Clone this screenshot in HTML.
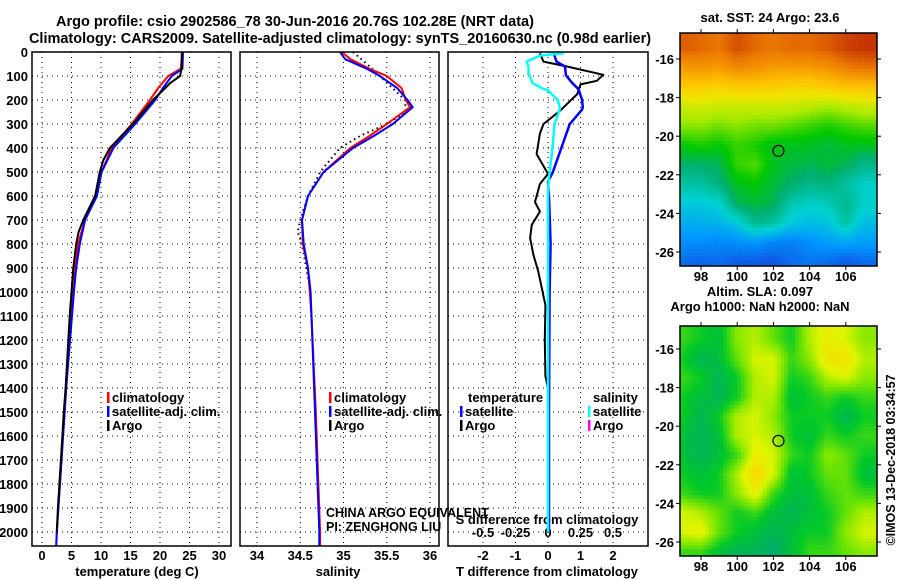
<!DOCTYPE html>
<html><head><meta charset="utf-8"><style>
body{margin:0;background:#fff;}
svg{display:block;font-family:"Liberation Sans",Arial,sans-serif;}
.b{font-weight:bold;font-size:13px;}
.t{font-weight:bold;font-size:14.5px;}
</style></head><body>
<svg id="c" width="900" height="580" viewBox="0 0 900 580"></svg>
<script>
// ---- data ----
const tempDepth = [0,60,100,130,150,200,300,400,450,500,600,700,750,800,900,1000,1100,1400,1500,1700,1900,2000];
const tempArgo  = [23.7,23.7,23.4,21.7,20.9,18.8,15.4,11.5,10.4,9.8,9.0,7.0,6.2,5.8,5.3,5.0,4.7,4.0,3.7,3.2,2.7,2.5];
const climDepth = [0,70,100,150,200,300,400,500,600,700,800,900,1000,1400,1700,2000,2060];
const tempClim  = [23.8,23.5,21.4,19.7,18.3,15.2,11.8,10.1,9.0,7.3,6.1,5.6,5.2,4.1,3.3,2.5,2.4];
const tempSat   = [23.9,23.8,22.0,20.5,19.2,15.8,12.1,10.1,9.3,7.3,6.4,5.8,5.4,4.1,3.3,2.5,2.4];
const salArgoDepth = [0,50,100,200,250,300,350,400,500,600,700,750,800,900,1000];
const salArgo   = [35.11,35.27,35.42,35.71,35.72,35.50,35.19,34.96,34.73,34.59,34.50,34.47,34.52,34.57,34.62];
const salDepth  = [0,30,70,100,150,200,230,300,350,400,500,600,700,800,900,1000,1100,1500,2000,2060];
const salClim   = [34.98,35.08,35.30,35.50,35.67,35.72,35.77,35.50,35.30,35.08,34.77,34.59,34.52,34.53,34.59,34.61,34.63,34.68,34.73,34.73];
const salSat    = [34.96,35.02,35.27,35.42,35.62,35.74,35.80,35.57,35.35,35.11,34.77,34.59,34.52,34.54,34.59,34.62,34.63,34.67,34.72,34.72];
const dTDepthArgo = [5,40,60,95,120,135,175,245,300,340,425,508,550,625,665,720,775,845,915,1055,1200,1350,1400,2000];
const dTArgo    = [-0.25,-0.14,0.57,1.7,1.5,1.0,0.9,0.37,-0.14,-0.25,-0.35,0,-0.25,-0.4,-0.25,-0.5,-0.55,-0.45,-0.3,-0.08,-0.1,-0.08,0,0];
const dDepth    = [5,15,40,60,95,100,130,150,160,200,230,240,300,400,500,540,600,800,1000,1500,2000];
const dTSat     = [0.15,0.2,0.26,0.52,0.55,0.57,0.75,0.9,0.95,1.05,1.07,1.05,0.67,0.41,0.15,0,0.03,0.08,0.05,0.03,0.03];
const dSSat     = [0.12,-0.06,-0.165,-0.15,-0.15,-0.14,-0.12,-0.05,0,0.075,0.09,0.09,0.05,0.035,0.012,0.005,0,0,0,0,0];
const depthTicks = [0,100,200,300,400,500,600,700,800,900,1000,1100,1200,1300,1400,1500,1600,1700,1800,1900,2000];
const tempTicks = [0,5,10,15,20,25,30];
const salTicks  = [34,34.5,35,35.5,36];
const dTTicks   = [-2,-1,0,1,2];
const dSTicks   = [-0.5,-0.25,0,0.25,0.5];
const lonTicks  = [98,100,102,104,106];
const latTicks  = [-16,-18,-20,-22,-24,-26];
// SST map grid (cols lon 97..107, rows lat -15.5..-26.5), deg C
const sstGrid = [
 [25.6,25.5,25.4,25.7,25.5,25.4,25.5,25.5,25.6,25.8,25.9],
 [25.0,25.1,25.0,25.2,25.1,25.0,25.0,25.0,25.1,25.3,25.4],
 [24.5,24.5,24.4,24.5,24.5,24.5,24.4,24.4,24.5,24.6,24.6],
 [23.9,24.0,23.9,23.9,23.9,23.9,23.9,23.8,23.7,23.8,23.9],
 [23.6,23.6,23.5,23.6,23.5,23.5,23.4,23.3,23.2,23.3,23.4],
 [23.1,23.2,23.1,23.3,23.2,23.0,23.0,23.0,22.9,23.0,23.0],
 [22.7,22.7,22.8,23.3,23.4,23.0,22.9,22.8,22.9,22.8,22.5],
 [22.3,22.3,22.6,23.0,23.1,22.9,22.7,22.5,22.6,22.3,22.0],
 [21.8,21.8,21.9,22.8,22.9,22.8,22.2,22.0,22.1,22.5,22.0],
 [21.4,21.4,21.5,21.8,22.5,22.3,21.8,21.6,21.7,22.3,21.6],
 [21.0,21.0,20.9,21.0,21.1,20.9,20.8,21.0,21.2,21.3,21.2],
 [20.6,20.5,20.6,20.4,20.4,20.3,20.6,20.7,20.6,20.4,20.6]];
// SLA map grid (m)
const slaGrid = [
 [0.06,0.05,0.04,0.08,0.09,0.07,0.05,0.09,0.11,0.10,0.08],
 [0.05,0.03,0.04,0.07,0.10,0.10,0.06,0.08,0.12,0.12,0.09],
 [0.06,0.05,0.03,0.05,0.09,0.10,0.05,0.06,0.09,0.10,0.08],
 [0.05,0.04,0.03,0.05,0.09,0.09,0.04,0.05,0.06,0.05,0.06],
 [0.05,0.03,0.05,0.09,0.10,0.08,0.05,0.05,0.05,0.03,0.05],
 [0.04,0.03,0.04,0.09,0.10,0.09,0.05,0.04,0.06,0.05,0.06],
 [0.04,0.03,0.04,0.06,0.11,0.10,0.06,0.05,0.08,0.07,0.05],
 [0.05,0.04,0.05,0.09,0.13,0.10,0.04,0.05,0.07,0.07,0.04],
 [0.06,0.05,0.05,0.08,0.11,0.06,0.04,0.04,0.06,0.07,0.06],
 [0.10,0.09,0.07,0.05,0.06,0.04,0.03,0.04,0.05,0.07,0.09],
 [0.10,0.11,0.07,0.05,0.04,0.03,0.04,0.05,0.05,0.08,0.10],
 [0.06,0.06,0.04,0.03,0.03,0.02,0.04,0.06,0.06,0.07,0.08]];
const argoLon = 102.28, argoLat = -20.76;

// ---- drawing ----
const NS="http://www.w3.org/2000/svg", S=document.getElementById('c');
function mk(tag,at,parent){const e=document.createElementNS(NS,tag);for(const k in at)e.setAttribute(k,at[k]);(parent||S).appendChild(e);return e;}
function txt(x,y,s,cls,anchor,name,parent){const e=mk('text',{x:x,y:y,'text-anchor':anchor||'middle',class:cls||'b'},parent);e.textContent=s;


return e;}
const Y0=52, DS=0.24;
const yD=d=>Y0+d*DS;
const PB=546;
const panels=[{x0:32,x1:231,f:v=>42+v*5.9},{x0:240,x1:439,f:v=>257+(v-34)*86.5},{x0:448,x1:648,f:v=>548+v*32.5}];
const fS=v=>548+v*4*32.5;

function grid(p,ticks,name){
  const g=mk('g',{});
  
  
  ticks.forEach(t=>{mk('line',{x1:p.f(t),x2:p.f(t),y1:Y0,y2:PB,stroke:'#000','stroke-width':1,'stroke-dasharray':'1,4'},g);});
  depthTicks.forEach(d=>{mk('line',{x1:p.x0,x2:p.x1,y1:yD(d),y2:yD(d),stroke:'#000','stroke-width':1,'stroke-dasharray':'1,4'},g);});
}
function frame(p,name){const r=mk('rect',{x:p.x0,y:Y0,width:p.x1-p.x0,height:PB-Y0,fill:'none',stroke:'#000','stroke-width':1.5});

}
function line(xs,ds,fx,color,name,dash,w){
  const pts=xs.map((v,i)=>fx(v).toFixed(1)+','+yD(ds[i]).toFixed(1)).join(' ');
  const a={points:pts,fill:'none',stroke:color,'stroke-width':w||2,'stroke-linejoin':'round'};
  if(dash)a['stroke-dasharray']=dash;
  const e=mk('polyline',a);
  
  
}
grid(panels[0],tempTicks,'temperature-grid');
grid(panels[1],salTicks,'salinity-grid');
grid(panels[2],dTTicks,'difference-grid');

// titles
txt(295,26,'Argo profile: csio 2902586_78 30-Jun-2016 20.76S 102.28E (NRT data)','t','middle','main-title');
txt(340,43,'Climatology: CARS2009. Satellite-adjusted climatology: synTS_20160630.nc (0.98d earlier)','t','middle','subtitle');

// depth ticks
depthTicks.forEach(d=>txt(28,yD(d)+5,String(d),'b','end','depth-tick-'+d));
tempTicks.forEach(t=>txt(panels[0].f(t),560,String(t),'b','middle','temp-tick-'+t));
salTicks.forEach(t=>txt(panels[1].f(t),560,String(t),'b','middle','sal-tick-'+t));
dTTicks.forEach(t=>txt(panels[2].f(t),560,String(t),'b','middle','dt-tick-'+t));
dSTicks.forEach(t=>txt(fS(t),537,String(t),'b','middle','ds-tick-'+t));
txt(137,576,'temperature (deg C)','b','middle','temperature-axis-title');
txt(338,576,'salinity','b','middle','salinity-axis-title');
txt(547,576,'T difference from climatology','b','middle','t-diff-axis-title');
txt(547,524,'S difference from climatology','b','middle','s-diff-axis-title');

// series
line(tempClim,climDepth,panels[0].f,'#f00','temp-climatology-line');
line(tempSat,climDepth,panels[0].f,'#00f','temp-satellite-line');
line(tempArgo,tempDepth,panels[0].f,'#000','temp-argo-line');
line(salArgo,salArgoDepth,panels[1].f,'#000','sal-argo-line','1.5,3.5');
line(salClim,salDepth,panels[1].f,'#f00','sal-climatology-line');
line(salSat,salDepth,panels[1].f,'#00f','sal-satellite-line');
line(dTArgo,dTDepthArgo,panels[2].f,'#000','tdiff-argo-line');
line(dTSat,dDepth,panels[2].f,'#00f','tdiff-satellite-line',null,2.5);
line(dSSat,dDepth,fS,'#0ff','sdiff-satellite-line',null,2.5);

frame(panels[0],'temperature-panel');frame(panels[1],'salinity-panel');frame(panels[2],'difference-panel');

// legends
function leg(x,y,color,label,name){
  const g=mk('g',{});
  
  
  mk('rect',{x:x,y:y-10,width:2.5,height:11,fill:color},g);
  const t=mk('text',{x:x+5,y:y,class:'b'},g);t.textContent=label;
}
leg(107,402,'#f00','climatology','legend-climatology');
leg(107,416,'#00f','satellite-adj. clim.','legend-satellite-adj');
leg(107,430,'#000','Argo','legend-argo');
leg(329,402,'#f00','climatology','legend-sal-climatology');
leg(329,416,'#00f','satellite-adj. clim.','legend-sal-satellite-adj');
leg(329,430,'#000','Argo','legend-sal-argo');
txt(468,402,'temperature','b','start','legend-temperature-header');
txt(593,402,'salinity','b','start','legend-salinity-header');
leg(460,416,'#00f','satellite','legend-t-satellite');
leg(460,430,'#000','Argo','legend-t-argo');
leg(588,416,'#0ff','satellite','legend-s-satellite');
leg(588,430,'#f0f','Argo','legend-s-argo');
const n1=txt(326,517,'CHINA ARGO EQUIVALENT','','start','pi-institution');n1.setAttribute('style','font-size:12.5px;');
const n2=txt(326,531,'PI: ZENGHONG LIU','','start','pi-name');n2.setAttribute('style','font-size:12.5px;');

// maps
function lerp(a,b,t){return a+(b-a)*t;}
function cmap(stops,t){t=Math.max(0,Math.min(1,t));for(let i=1;i<stops.length;i++){if(t<=stops[i][0]){const a=stops[i-1],b=stops[i],u=(t-a[0])/(b[0]-a[0]);return 'rgb('+[1,2,3].map(k=>Math.round(lerp(a[k],b[k],u))).join(',')+')';}}const l=stops[stops.length-1];return 'rgb('+l[1]+','+l[2]+','+l[3]+')';}
const sstStops=[[0,20,60,210],[0.18,0,150,255],[0.32,0,210,210],[0.45,0,175,110],[0.52,0,200,0],[0.62,170,235,0],[0.7,240,230,0],[0.78,255,190,0],[0.9,235,120,0],[1,190,40,0]];
const slaStops=[[0,0,170,110],[0.25,0,200,40],[0.5,120,230,0],[0.75,225,245,0],[1,250,215,0]];
function drawMap(x0,y0,x1,y1,latAt16,latAt26,gridv,vmin,vmax,stops,name,title1,title2,step){
  const lonF=l=>701+(l-98)*18.1;
  const latF=l=>latAt16+(-16-l)*(latAt26-latAt16)/10;
  const g=mk('g',{});
  
  
  const invLon=x=>98+(x-701)/18.1, invLat=y=>-16-(y-latAt16)*10/(latAt26-latAt16);
  for(let y=y0;y<y1;y+=step){for(let x=x0;x<x1;x+=step){
    const lo=invLon(x+step/2), la=invLat(y+step/2);
    let c=Math.max(0,Math.min(10,lo-97)), r=Math.max(0,Math.min(11,-15.5-la));
    const ci=Math.min(9,Math.floor(c)), ri=Math.min(10,Math.floor(r)), fc=c-ci, fr=r-ri;
    const v=lerp(lerp(gridv[ri][ci],gridv[ri][ci+1],fc),lerp(gridv[ri+1][ci],gridv[ri+1][ci+1],fc),fr);
    mk('rect',{x:x,y:y,width:Math.min(step,x1-x)+0.3,height:Math.min(step,y1-y)+0.3,fill:cmap(stops,(v-vmin)/(vmax-vmin))},g);
  }}
  mk('rect',{x:x0,y:y0,width:x1-x0,height:y1-y0,fill:'none',stroke:'#000','stroke-width':1.5},g);
  const cc=mk('circle',{cx:lonF(argoLon),cy:latF(argoLat),r:5.5,fill:'none',stroke:'#000','stroke-width':1.2},g);
  
  
  lonTicks.forEach(l=>{mk('line',{x1:lonF(l),x2:lonF(l),y1:y0-4,y2:y0,stroke:'#000'},g);mk('line',{x1:lonF(l),x2:lonF(l),y1:y1,y2:y1+4,stroke:'#000'},g);txt(lonF(l),y1+15,String(l),'b','middle',name+'-lon-'+l,g);});
  latTicks.forEach(l=>{mk('line',{x1:x1,x2:x1+4,y1:latF(l),y2:latF(l),stroke:'#000'},g);mk('line',{x1:x0-4,x2:x0,y1:latF(l),y2:latF(l),stroke:'#000'},g);txt(x0-6,latF(l)+5,String(l),'b','end',name+'-lat-'+l,g);});
  if(title2){txt(760,y0-30,title1,'b','middle',name+'-title',g);txt(760,y0-15,title2,'b','middle',name+'-subtitle',g);}
  else txt(770,y0-11,title1,'b','middle',name+'-title',g);
}
drawMap(680,33,877,266,59,252,sstGrid,20,26,sstStops,'sst-map','sat. SST: 24 Argo: 23.6',null,3.6);
drawMap(680,326,877,556,349,542,slaGrid,0.02,0.13,slaStops,'sla-map','Altim. SLA: 0.097','Argo h1000: NaN h2000: NaN',3.6);
const cp=txt(0,0,'©IMOS 13-Dec-2018 03:34:57','','middle','imos-timestamp');
cp.setAttribute('transform','translate(895,460) rotate(-90)');
cp.setAttribute('style','font-size:12.5px;');
</script>
</body></html>
